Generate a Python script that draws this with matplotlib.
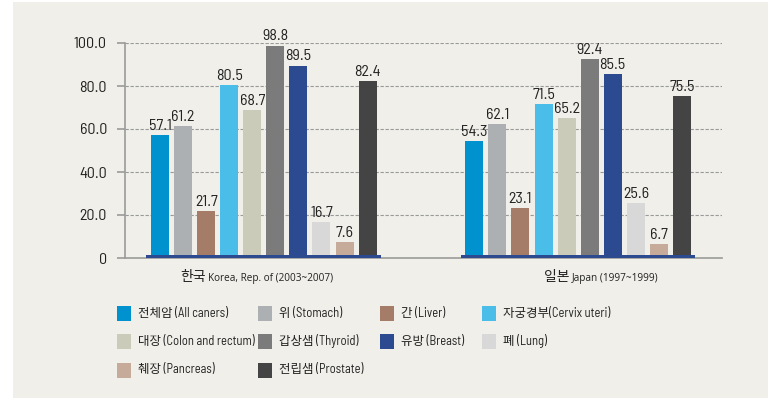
import matplotlib.pyplot as plt
from matplotlib.patches import Rectangle

# data
sites = ['전체암 (All caners)', '위 (Stomach)', '간 (Liver)', '자궁경부(Cervix uteri)',
         '대장 (Colon and rectum)', '갑상샘 (Thyroid)', '유방 (Breast)', '폐 (Lung)',
         '췌장 (Pancreas)', '전립샘 (Prostate)']
colors = ['#0091cf', '#adb0b3', '#a57c68', '#4bbde9', '#cbcbb9',
          '#7b7b7b', '#2c4a90', '#d8d8d8', '#c7ab9a', '#444444']
korea = [57.1, 61.2, 21.7, 80.5, 68.7, 98.8, 89.5, 16.7, 7.6, 82.4]
japan = [54.3, 62.1, 23.1, 71.5, 65.2, 92.4, 85.5, 25.6, 6.7, 75.5]
group_kr = ['한국', '일본']
group_en = ['Korea, Rep. of (2003~2007)', 'Japan (1997~1999)']
yticks = [0, 20, 40, 60, 80, 100]
ytick_labels = ['0', '20.0', '40.0', '60.0', '80.0', '100.0']

W, H = 775, 400
narrow = ['Barlow Semi Condensed', 'Noto Sans CJK KR', 'DejaVu Sans']
kfont = ['Noto Sans CJK KR', 'DejaVu Sans']
bg = '#f0efe9'
grey = '#9a9a9a'
ink = '#222222'


def px(x):
    return x / W


def py(y):
    return 1 - y / H


fig = plt.figure(figsize=(W / 100, H / 100), dpi=100)
fig.patch.set_facecolor('white')
fig.add_artist(Rectangle((px(13), py(398)), px(768) - px(13), py(2) - py(398),
                         transform=fig.transFigure, facecolor=bg, edgecolor='none', zorder=0))

ax = fig.add_axes([px(125), py(258), px(722) - px(125), py(43) - py(258)])
ax.set_facecolor('none')

gap = 13.63
width = 0.78
for g, vals in enumerate([korea, japan]):
    xs = [g * gap + i for i in range(len(vals))]
    ax.bar(xs, vals, width=width, color=colors, zorder=3)
    for x, v in zip(xs, vals):
        ax.annotate(f'{v:.1f}', (x, v), xytext=(0, 1.5), textcoords='offset points',
                    ha='center', va='bottom', fontsize=11.5, family=narrow, color=ink)
    # dark blue base strip under each group
    ax.bar((xs[0] + xs[-1]) / 2, 1.6, width=xs[-1] - xs[0] + width + 0.4,
           color='#2c4a90', zorder=4)

ax.set_xlim(-1.52, 24.37)
ax.set_ylim(0, 100)
ax.set_xticks([])
ax.set_yticks(yticks)
ax.set_yticklabels(ytick_labels, family=narrow, fontsize=11.5, color=ink)
ax.tick_params(axis='y', length=6, width=1.2, color=grey, pad=7)
for y in yticks[1:]:
    ax.axhline(y, color=grey, lw=0.8, ls=(0, (3, 1.5)), zorder=1)
for s in ['top', 'right']:
    ax.spines[s].set_visible(False)
for s in ['left', 'bottom']:
    ax.spines[s].set_color(grey)
    ax.spines[s].set_linewidth(1.2)

# group labels
for kr, en, x0 in zip(group_kr, group_en, [180, 544]):
    t = fig.text(px(x0), py(277), kr, family=kfont, fontsize=10, va='center', color=ink)
    ax.annotate(en, xy=(1, 0), xycoords=t, xytext=(1.5, 0), textcoords='offset points',
                va='bottom', ha='left', family=['Open Sans', 'DejaVu Sans'], fontsize=7.2,
                color=ink, annotation_clip=False)

# legend, laid out in rows of four
col_x = [117, 258, 380, 482]
row_y = [313, 341, 370]
for i, (name, c) in enumerate(zip(sites, colors)):
    x, y = col_x[i % 4], row_y[i // 4]
    fig.add_artist(Rectangle((px(x), py(y + 7.5)), px(14), 15 / H,
                             transform=fig.transFigure, facecolor=c, edgecolor='none'))
    fig.text(px(x + 21), py(y), name, family=narrow, fontsize=9, va='center', color=ink)

fig.savefig('out.png', dpi=100, facecolor='white')
